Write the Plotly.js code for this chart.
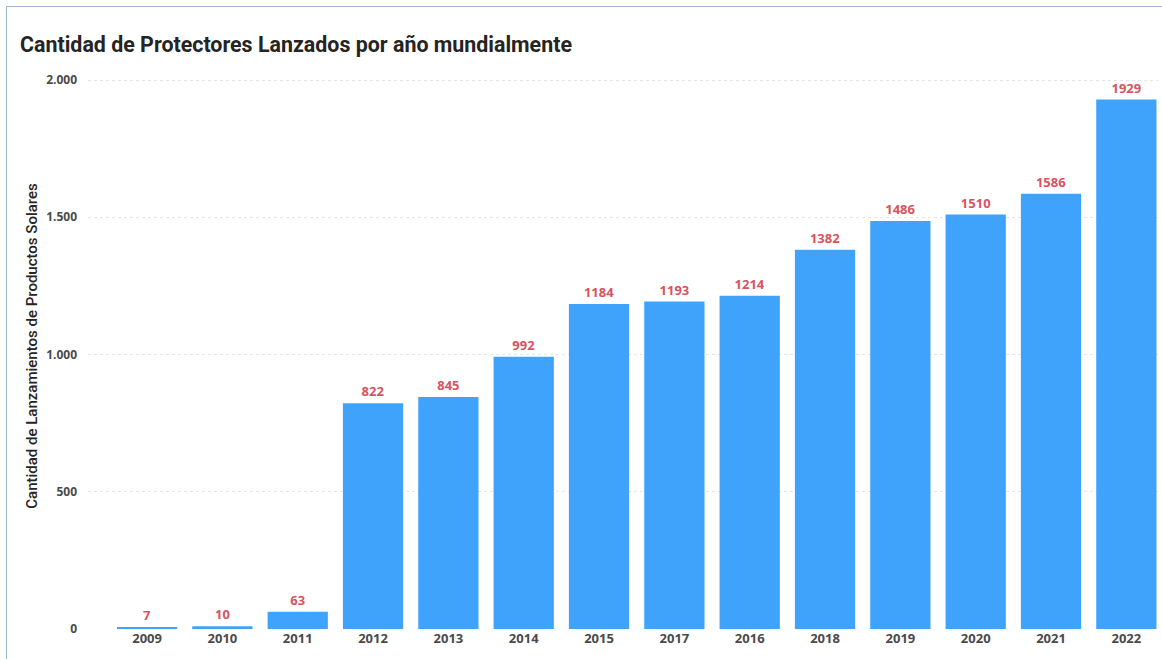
<!DOCTYPE html>
<html>
<head>
<meta charset="utf-8">
<script src="https://cdn.plot.ly/plotly-3.0.1.min.js"></script>
<style>
html,body{margin:0;padding:0;background:#fff;}
#chart{width:1162px;height:659px;}
#frame{position:absolute;left:6px;top:6px;width:1160px;height:660px;border-left:1px solid #9fb6cf;border-top:1px solid #9fb6cf;pointer-events:none;}
</style>
</head>
<body>
<div id="chart"></div>
<div id="frame"></div>
<script>
const years = ["2009","2010","2011","2012","2013","2014","2015","2017","2016","2018","2019","2020","2021","2022"];
const launches = [7, 10, 63, 822, 845, 992, 1184, 1193, 1214, 1382, 1486, 1510, 1586, 1929];
const labels = launches.map(String);

const trace = {
  type: 'bar',
  x: years,
  y: launches,
  text: labels,
  textposition: 'outside',
  cliponaxis: false,
  textfont: {family: 'Open Sans, sans-serif', size: 13, color: '#d9535f', weight: 700},
  marker: {color: '#3fa2fb'},
  hoverinfo: 'x+y'
};

const layout = {
  width: 1162,
  height: 659,
  paper_bgcolor: '#ffffff',
  plot_bgcolor: '#ffffff',
  margin: {l: 88, r: 4, t: 63, b: 30, pad: 0},
  bargap: 0.2,
  separators: ',.',
  showlegend: false,
  title: {
    text: 'Cantidad de Protectores Lanzados por año mundialmente',
    font: {family: 'Roboto, sans-serif', size: 21.4, color: '#252423', weight: 700},
    x: 20/1162, xref: 'container', xanchor: 'left',
    y: 1 - 45/659, yref: 'container', yanchor: 'middle'
  },
  xaxis: {
    type: 'category',
    range: [-0.784, 13.42],
    showgrid: false,
    zeroline: false,
    showline: false,
    ticks: '',
    tickfont: {family: 'Open Sans, sans-serif', size: 13, color: '#4a4a4a', weight: 700}
  },
  yaxis: {
    range: [0, 2062],
    tickvals: [0, 500, 1000, 1500, 2000],
    tickformat: ',d',
    showgrid: true,
    gridcolor: '#e4e4e4',
    griddash: 'dot',
    gridwidth: 1,
    zeroline: false,
    showline: false,
    ticks: '',
    ticklabelstandoff: 10,
    tickfont: {family: 'Open Sans, sans-serif', size: 12, color: '#4a4a4a', weight: 700},
    title: {
      text: 'Cantidad de Lanzamientos de Productos Solares',
      font: {family: 'Roboto, sans-serif', size: 15, color: '#252423', weight: 500},
      standoff: 4
    }
  }
};

Plotly.newPlot('chart', [trace], layout, {displayModeBar: false, staticPlot: true});
</script>
</body>
</html>
